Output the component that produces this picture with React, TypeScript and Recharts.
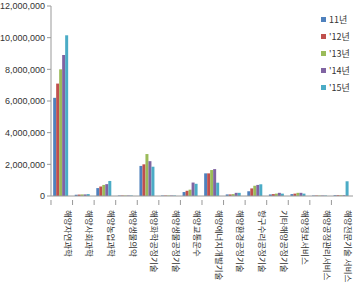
import { Bar, BarChart, XAxis, YAxis } from 'recharts'

const categories = [
  '해양자연과학',
  '해양사회과학',
  '해양농업과학',
  '해양생물의약',
  '해양화학공정기술',
  '해양생물공정기술',
  '해양교통운수',
  '해양에너지개발기술',
  '해양환경공정기술',
  '항구수리공정기술',
  '기타해양공정기술',
  '해양정보서비스',
  '해양공정관리서비스',
  '해양전문기술 서비스',
]

const y11 = [6200000, 80000, 500000, 30000, 1900000, 30000, 250000, 1430000, 100000, 300000, 100000, 120000, 30000, 50000]
const y12 = [7100000, 90000, 600000, 30000, 2000000, 30000, 330000, 1430000, 100000, 480000, 120000, 150000, 30000, 50000]
const y13 = [8000000, 100000, 700000, 30000, 2650000, 30000, 400000, 1640000, 120000, 650000, 150000, 200000, 30000, 50000]
const y14 = [8900000, 100000, 750000, 30000, 2200000, 30000, 850000, 1700000, 200000, 700000, 200000, 200000, 30000, 50000]
const y15 = [10150000, 120000, 950000, 30000, 1850000, 30000, 770000, 840000, 200000, 740000, 150000, 150000, 30000, 930000]

const seriesNames = ['11년', "'12년", "'13년", "'14년", "'15년"]
const seriesValues = [y11, y12, y13, y14, y15]
const colors = ['#4F81BD', '#C0504D', '#9BBB59', '#8064A2', '#4BACC6']
const yTicks = [0, 2000000, 4000000, 6000000, 8000000, 10000000, 12000000]

const data = categories.map((name, i) => {
  const row: Record<string, string | number> = { name }
  seriesNames.forEach((s, k) => {
    row[s] = seriesValues[k][i]
  })
  return row
})

const BAND = 21.6

function CategoryTick(props: any) {
  const { x, y, payload } = props
  return (
    <g>
      <line x1={x - BAND / 2} y1={y - 4} x2={x - BAND / 2} y2={y + 1} stroke="#999" />
      <text
        x={x + 3}
        y={y + 6}
        transform={`rotate(90, ${x + 3}, ${y + 6})`}
        fontSize={8.5}
        fill="#333"
        textAnchor="start"
        fontFamily="'Noto Sans CJK KR', sans-serif"
      >
        {payload.value}
      </text>
    </g>
  )
}

function LegendBox() {
  return (
    <div
      style={{
        position: 'absolute',
        left: 321,
        top: 11,
        fontFamily: "'Noto Sans CJK KR', sans-serif",
        fontSize: 9,
        color: '#333',
      }}
    >
      {seriesNames.map((s, k) => (
        <div key={s} style={{ display: 'flex', alignItems: 'center', height: 17 }}>
          <span style={{ width: 5, height: 5, background: colors[k], marginRight: 3 }} />
          <span>{s}</span>
        </div>
      ))}
    </div>
  )
}

export default function App() {
  return (
    <div style={{ position: 'absolute', left: 0, top: 0, width: 362, height: 285, background: '#fff' }}>
      <BarChart
        width={362}
        height={285}
        data={data}
        margin={{ top: 6, right: 9, left: 0, bottom: 0 }}
        barCategoryGap="10%"
        barGap={0}
      >
        <XAxis
          dataKey="name"
          interval={0}
          height={89}
          stroke="#999"
          tickLine={false}
          tick={<CategoryTick />}
        />
        <YAxis
          domain={[0, 12000000]}
          ticks={yTicks}
          width={51}
          stroke="#999"
          tickSize={4}
          tick={{ fontSize: 9, fill: '#333', fontFamily: 'Arial, sans-serif' }}
          tickFormatter={(v: number) => v.toLocaleString('en-US')}
        />
        {seriesNames.map((s, k) => (
          <Bar key={s} dataKey={s} fill={colors[k]} isAnimationActive={false} />
        ))}
      </BarChart>
      <LegendBox />
    </div>
  )
}
